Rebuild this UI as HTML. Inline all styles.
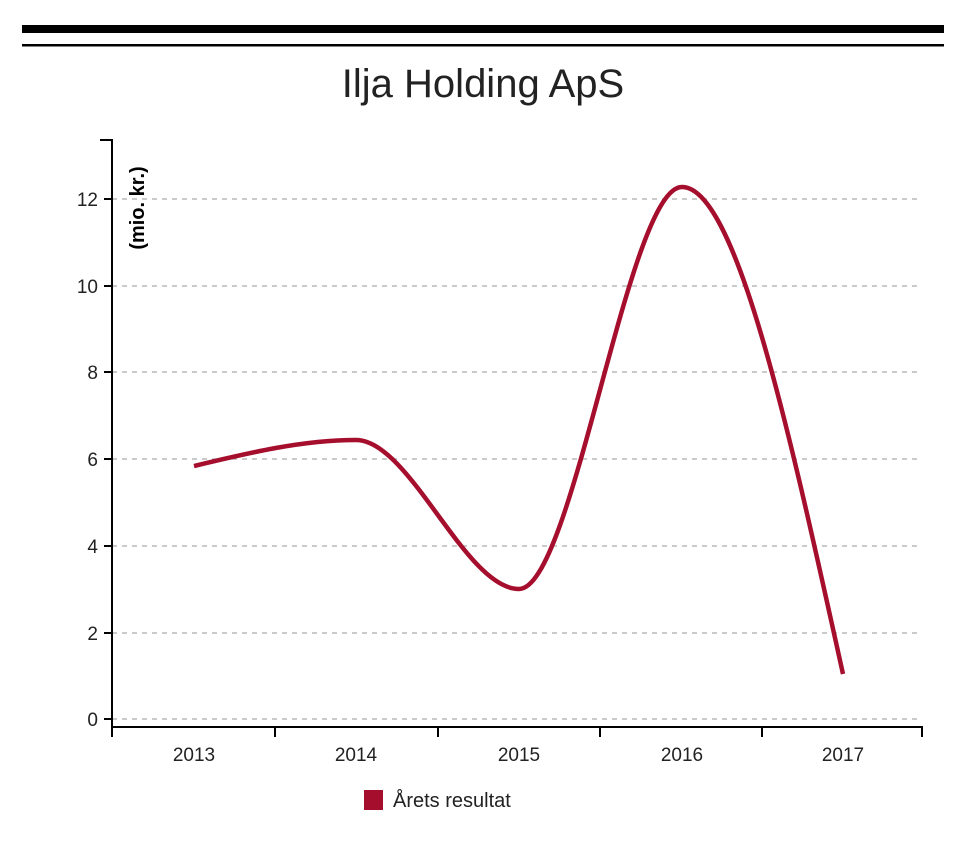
<!DOCTYPE html>
<html><head><meta charset="utf-8"><style>
html,body{margin:0;padding:0;background:#fff;width:960px;height:843px;overflow:hidden}
svg text{font-family:"Liberation Sans",Arial,sans-serif}
</style></head><body>
<svg width="960" height="843" viewBox="0 0 960 843" xmlns="http://www.w3.org/2000/svg">
<rect x="22" y="25" width="922" height="8" fill="#000"/>
<rect x="22" y="44" width="922" height="2.5" fill="#000"/>
<text x="483" y="97" text-anchor="middle" font-size="40" fill="#222">Ilja Holding ApS</text>
<g stroke="#aaa" stroke-width="1.3" stroke-dasharray="5,5">
<line x1="112" y1="199" x2="922" y2="199"/>
<line x1="112" y1="286" x2="922" y2="286"/>
<line x1="112" y1="372" x2="922" y2="372"/>
<line x1="112" y1="459" x2="922" y2="459"/>
<line x1="112" y1="546" x2="922" y2="546"/>
<line x1="112" y1="633" x2="922" y2="633"/>
<line x1="112" y1="719" x2="922" y2="719"/>
</g>
<g stroke="#000" stroke-width="2" fill="none">
<path d="M100,140H112V727H922V737"/>
<line x1="104" y1="199" x2="112" y2="199"/><line x1="104" y1="286" x2="112" y2="286"/>
<line x1="104" y1="372" x2="112" y2="372"/><line x1="104" y1="459" x2="112" y2="459"/>
<line x1="104" y1="546" x2="112" y2="546"/><line x1="104" y1="633" x2="112" y2="633"/>
<line x1="104" y1="719" x2="112" y2="719"/>
<line x1="112" y1="727" x2="112" y2="737"/><line x1="275" y1="727" x2="275" y2="737"/>
<line x1="438" y1="727" x2="438" y2="737"/><line x1="600" y1="727" x2="600" y2="737"/>
<line x1="762" y1="727" x2="762" y2="737"/>
</g>
<g font-size="19" fill="#222" text-anchor="end">
<text x="98" y="206">12</text><text x="98" y="293">10</text><text x="98" y="379">8</text>
<text x="98" y="466">6</text><text x="98" y="553">4</text><text x="98" y="640">2</text><text x="98" y="726">0</text>
</g>
<g font-size="19" fill="#222" text-anchor="middle">
<text x="194" y="761">2013</text><text x="356" y="761">2014</text><text x="519" y="761">2015</text>
<text x="682" y="761">2016</text><text x="843" y="761">2017</text>
</g>
<text transform="translate(144,208) rotate(-90)" text-anchor="middle" font-size="20" font-weight="bold" fill="#000">(mio. kr.)</text>
<path d="M194,466C248,453 302,440 356,440C410,440 465,589 519,589C573,589 628,187 682,187C736,187 789,430 843,674" fill="none" stroke="#a50f2d" stroke-width="4.5"/>
<rect x="364" y="790" width="19" height="20" fill="#a50f2d"/>
<text x="393" y="807" font-size="20" fill="#222">Årets resultat</text>
</svg>
</body></html>
